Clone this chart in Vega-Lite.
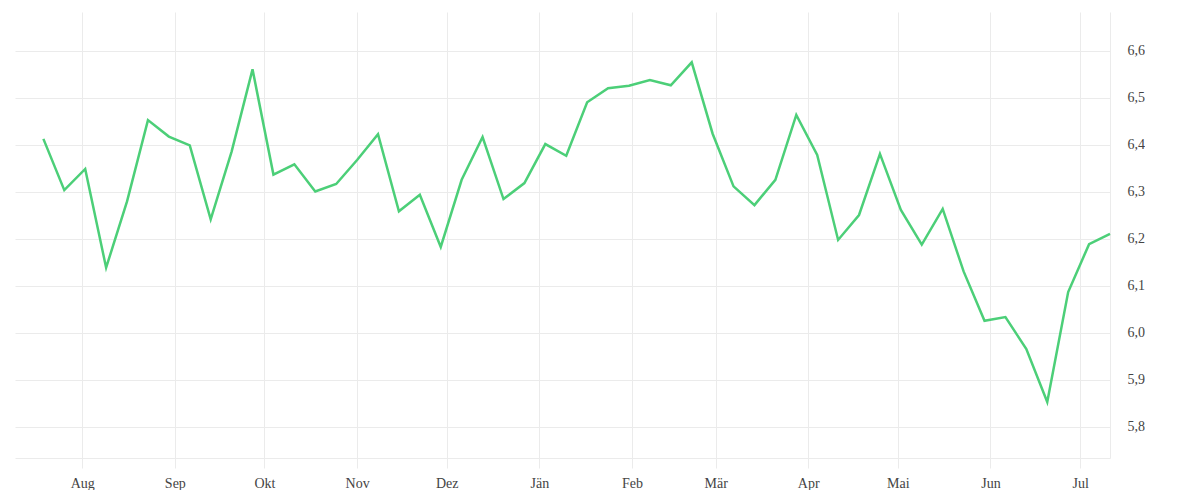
{
  "$schema": "https://vega.github.io/schema/vega-lite/v6.json",
  "width": 1095,
  "height": 446,
  "padding": {"left": 15, "top": 12, "right": 0, "bottom": 0},
  "background": "white",
  "config": {
    "view": {"stroke": null},
    "axis": {"labelFont": "Liberation Serif", "labelFontSize": 14, "labelColor": "#444444", "gridColor": "#ebebeb", "gridWidth": 1}
  },
  "data": {
    "values": [
      {"date": "2022-07-19", "value": 6.412},
      {"date": "2022-07-26", "value": 6.303},
      {"date": "2022-08-02", "value": 6.348},
      {"date": "2022-08-09", "value": 6.138},
      {"date": "2022-08-16", "value": 6.279},
      {"date": "2022-08-23", "value": 6.452},
      {"date": "2022-08-30", "value": 6.417},
      {"date": "2022-09-06", "value": 6.398},
      {"date": "2022-09-13", "value": 6.241},
      {"date": "2022-09-20", "value": 6.385},
      {"date": "2022-09-27", "value": 6.560},
      {"date": "2022-10-04", "value": 6.336},
      {"date": "2022-10-11", "value": 6.358},
      {"date": "2022-10-18", "value": 6.300},
      {"date": "2022-10-25", "value": 6.316},
      {"date": "2022-11-01", "value": 6.367},
      {"date": "2022-11-08", "value": 6.422},
      {"date": "2022-11-15", "value": 6.258},
      {"date": "2022-11-22", "value": 6.293},
      {"date": "2022-11-29", "value": 6.182},
      {"date": "2022-12-06", "value": 6.325},
      {"date": "2022-12-13", "value": 6.416},
      {"date": "2022-12-20", "value": 6.284},
      {"date": "2022-12-27", "value": 6.318},
      {"date": "2023-01-03", "value": 6.401},
      {"date": "2023-01-10", "value": 6.376},
      {"date": "2023-01-17", "value": 6.490},
      {"date": "2023-01-24", "value": 6.520},
      {"date": "2023-01-31", "value": 6.525},
      {"date": "2023-02-07", "value": 6.537},
      {"date": "2023-02-14", "value": 6.526},
      {"date": "2023-02-21", "value": 6.575},
      {"date": "2023-02-28", "value": 6.423},
      {"date": "2023-03-07", "value": 6.311},
      {"date": "2023-03-14", "value": 6.271},
      {"date": "2023-03-21", "value": 6.325},
      {"date": "2023-03-28", "value": 6.463},
      {"date": "2023-04-04", "value": 6.378},
      {"date": "2023-04-11", "value": 6.197},
      {"date": "2023-04-18", "value": 6.250},
      {"date": "2023-04-25", "value": 6.380},
      {"date": "2023-05-02", "value": 6.261},
      {"date": "2023-05-09", "value": 6.187},
      {"date": "2023-05-16", "value": 6.263},
      {"date": "2023-05-23", "value": 6.130},
      {"date": "2023-05-30", "value": 6.025},
      {"date": "2023-06-06", "value": 6.033},
      {"date": "2023-06-13", "value": 5.965},
      {"date": "2023-06-20", "value": 5.852},
      {"date": "2023-06-27", "value": 6.086},
      {"date": "2023-07-04", "value": 6.188},
      {"date": "2023-07-11", "value": 6.210}
    ]
  },
  "mark": {"type": "line", "color": "#4ccf78", "strokeWidth": 2.5, "strokeJoin": "miter", "strokeCap": "butt"},
  "encoding": {
    "x": {
      "field": "date",
      "type": "temporal",
      "scale": {"type": "utc", "domain": ["2022-07-09T12:00:00", "2023-07-11"], "nice": false},
      "axis": {
        "title": null,
        "labelExpr": "['Jän','Feb','Mär','Apr','Mai','Jun','Jul','Aug','Sep','Okt','Nov','Dez'][utcmonth(datum.value)]",
        "tickCount": {"interval": "month", "step": 1},
        "grid": true,
        "domain": true,
        "domainColor": "#ebebeb",
        "ticks": true,
        "tickColor": "#ebebeb",
        "tickSize": 10,
        "labelPadding": 8,
        "labelFlush": false,
        "labelOverlap": false
      }
    },
    "y": {
      "field": "value",
      "type": "quantitative",
      "scale": {"domain": [5.733, 6.682], "nice": false, "zero": false},
      "axis": {
        "title": null,
        "orient": "right",
        "values": [5.8, 5.9, 6.0, 6.1, 6.2, 6.3, 6.4, 6.5, 6.6],
        "labelExpr": "replace(format(datum.value, '.1f'), '.', ',')",
        "grid": true,
        "ticks": false,
        "domain": true,
        "domainColor": "#ebebeb",
        "labelPadding": 17,
        "labelAlign": "left"
      }
    }
  }
}
